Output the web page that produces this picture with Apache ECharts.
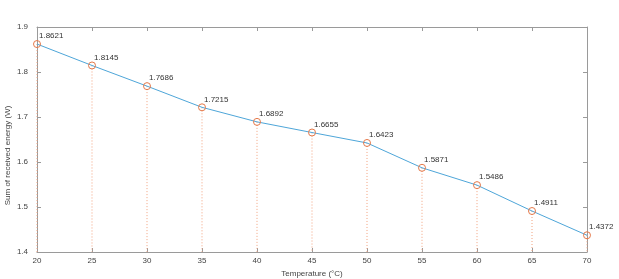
<!DOCTYPE html>
<html>
<head>
<meta charset="utf-8">
<script src="https://cdn.jsdelivr.net/npm/echarts@6/dist/echarts.min.js"></script>
<style>
  html, body { margin: 0; padding: 0; background: #fff; }
  #chart { width: 619px; height: 279px; }
</style>
</head>
<body>
<div id="chart"></div>
<script>
// data
const temperatures = [20, 25, 30, 35, 40, 45, 50, 55, 60, 65, 70];
const energy = [1.8621, 1.8145, 1.7686, 1.7215, 1.6892, 1.6655, 1.6423, 1.5871, 1.5486, 1.4911, 1.4372];
const yTicks = [1.4, 1.5, 1.6, 1.7, 1.8, 1.9];

const points = temperatures.map((t, i) => [t, energy[i]]);
const yMin = yTicks[0];
const yMax = yTicks[yTicks.length - 1];

const axisGrey = '#9a9a9a';
const font = 'Liberation Sans, Arial, sans-serif';

const chart = echarts.init(document.getElementById('chart'));

const option = {
  animation: false,
  backgroundColor: '#fff',
  grid: { left: 37, right: 32, top: 27, bottom: 27, outerBoundsMode: 'none', containLabel: false },
  xAxis: [
    {
      type: 'value', min: 20, max: 70, interval: 5,
      name: 'Temperature (°C)', nameLocation: 'middle', nameGap: 18,
      nameTextStyle: { fontSize: 8, color: '#444', fontFamily: font },
      axisLine: { lineStyle: { color: axisGrey } },
      axisTick: { inside: true, length: 4, lineStyle: { color: axisGrey } },
      axisLabel: { fontSize: 8, color: '#444', margin: 5, fontFamily: font },
      splitLine: { show: false }
    },
    {
      type: 'value', min: 20, max: 70, interval: 5, position: 'top',
      axisLine: { show: true, lineStyle: { color: axisGrey } },
      axisTick: { inside: true, length: 4, lineStyle: { color: axisGrey } },
      axisLabel: { show: false },
      splitLine: { show: false }
    }
  ],
  yAxis: [
    {
      type: 'value', min: yMin, max: yMax, interval: 0.1,
      name: 'Sum of received energy (W)', nameLocation: 'middle', nameGap: 25,
      nameMoveOverlap: false,
      nameTextStyle: { fontSize: 8, color: '#444', fontFamily: font, padding: [0, 32, 0, 0] },
      axisLine: { show: true, lineStyle: { color: axisGrey } },
      axisTick: { show: true, inside: true, length: 4, lineStyle: { color: axisGrey } },
      axisLabel: { fontSize: 8, color: '#444', margin: 9, fontFamily: font,
                   formatter: v => v.toFixed(1) },
      splitLine: { show: false }
    },
    {
      type: 'value', min: yMin, max: yMax, interval: 0.1, position: 'right',
      axisLine: { show: true, lineStyle: { color: axisGrey } },
      axisTick: { show: true, inside: true, length: 4, lineStyle: { color: axisGrey } },
      axisLabel: { show: false },
      splitLine: { show: false }
    }
  ],
  series: [
    {
      // dotted stems down to the x axis
      type: 'custom',
      data: points,
      silent: true,
      z: 1,
      renderItem: function (params, api) {
        const top = api.coord([api.value(0), api.value(1)]);
        const bottom = api.coord([api.value(0), yMin]);
        return {
          type: 'line',
          shape: { x1: top[0], y1: top[1], x2: bottom[0], y2: bottom[1] },
          style: { stroke: '#f2a27e', lineWidth: 1, lineDash: [1, 2] }
        };
      }
    },
    {
      type: 'line',
      data: points,
      z: 3,
      symbol: 'circle',
      symbolSize: 7,
      lineStyle: { color: '#4ea6d9', width: 1 },
      itemStyle: { color: 'rgba(255,255,255,0)', borderColor: '#e5794a', borderWidth: 1 },
      emphasis: { disabled: true },
      label: {
        show: true, position: 'top', align: 'left', offset: [2, 5],
        fontSize: 8, color: '#333', fontFamily: font,
        formatter: p => p.value[1].toFixed(4)
      }
    }
  ]
};

chart.setOption(option);
</script>
</body>
</html>
